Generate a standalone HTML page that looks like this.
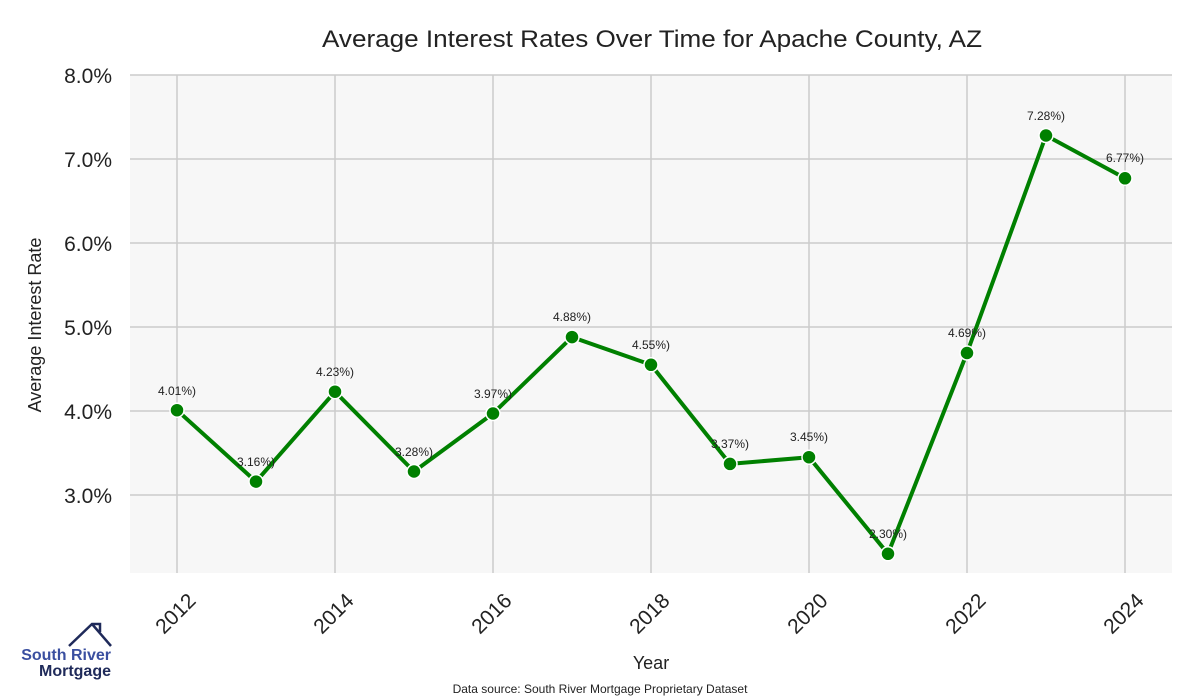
<!DOCTYPE html><html><head><style>body{margin:0;background:#fff}svg{display:block;font-family:"Liberation Sans",sans-serif}</style></head><body>
<svg width="1200" height="700" viewBox="0 0 1200 700" xmlns="http://www.w3.org/2000/svg">
<rect width="1200" height="700" fill="#fff"/>
<rect x="130" y="75" width="1042" height="498" fill="#f7f7f7"/>
<g stroke="#cccccc" stroke-width="1.5">
<line x1="130" x2="1172" y1="75" y2="75"/><line x1="130" x2="1172" y1="159" y2="159"/><line x1="130" x2="1172" y1="243" y2="243"/><line x1="130" x2="1172" y1="327" y2="327"/><line x1="130" x2="1172" y1="411" y2="411"/><line x1="130" x2="1172" y1="495" y2="495"/>
<line x1="177" x2="177" y1="75" y2="573"/><line x1="335" x2="335" y1="75" y2="573"/><line x1="493" x2="493" y1="75" y2="573"/><line x1="651" x2="651" y1="75" y2="573"/><line x1="809" x2="809" y1="75" y2="573"/><line x1="967" x2="967" y1="75" y2="573"/><line x1="1125" x2="1125" y1="75" y2="573"/>
</g>
<text x="322" y="47" font-size="24" textLength="660" lengthAdjust="spacingAndGlyphs" fill="#222">Average Interest Rates Over Time for Apache County, AZ</text>
<g font-size="21" fill="#222" text-anchor="end">
<text x="112" y="83">8.0%</text><text x="112" y="167">7.0%</text><text x="112" y="251">6.0%</text><text x="112" y="335">5.0%</text><text x="112" y="419">4.0%</text><text x="112" y="503">3.0%</text>
</g>
<text transform="translate(41,325) rotate(-90)" font-size="18" text-anchor="middle" fill="#222">Average Interest Rate</text>
<g font-size="21" fill="#222" text-anchor="end">
<text transform="translate(197,602) rotate(-45)">2012</text><text transform="translate(355,602) rotate(-45)">2014</text><text transform="translate(513,602) rotate(-45)">2016</text><text transform="translate(671,602) rotate(-45)">2018</text><text transform="translate(829,602) rotate(-45)">2020</text><text transform="translate(987,602) rotate(-45)">2022</text><text transform="translate(1145,602) rotate(-45)">2024</text>
</g>
<text x="651" y="669" font-size="18" text-anchor="middle" fill="#222">Year</text>
<text x="600" y="693" font-size="12" text-anchor="middle" fill="#222">Data source: South River Mortgage Proprietary Dataset</text>
<polyline fill="none" stroke="#008000" stroke-width="4" stroke-linejoin="round" points="177,410.2 256,481.6 335,391.7 414,471.5 493,413.5 572,337.1 651,364.8 730,463.9 809,457.2 888,553.8 967,353 1046,135.5 1125,178.3"/>
<g fill="#008000" stroke="#fff" stroke-width="1.5">
<circle cx="177" cy="410.2" r="7"/><circle cx="256" cy="481.6" r="7"/><circle cx="335" cy="391.7" r="7"/><circle cx="414" cy="471.5" r="7"/><circle cx="493" cy="413.5" r="7"/><circle cx="572" cy="337.1" r="7"/><circle cx="651" cy="364.8" r="7"/><circle cx="730" cy="463.9" r="7"/><circle cx="809" cy="457.2" r="7"/><circle cx="888" cy="553.8" r="7"/><circle cx="967" cy="353" r="7"/><circle cx="1046" cy="135.5" r="7"/><circle cx="1125" cy="178.3" r="7"/>
</g>
<g font-size="12" fill="#222" text-anchor="middle">
<text x="177" y="395">4.01%)</text><text x="256" y="466">3.16%)</text><text x="335" y="376">4.23%)</text><text x="414" y="456">3.28%)</text><text x="493" y="398">3.97%)</text><text x="572" y="321">4.88%)</text><text x="651" y="349">4.55%)</text><text x="730" y="448">3.37%)</text><text x="809" y="441">3.45%)</text><text x="888" y="538">2.30%)</text><text x="967" y="337">4.69%)</text><text x="1046" y="120">7.28%)</text><text x="1125" y="162">6.77%)</text>
</g>
<polyline points="69,646 92,624 100,624 100,632" fill="none" stroke="#1f2a5a" stroke-width="2.5"/>
<polyline points="92,624 111,646" fill="none" stroke="#1f2a5a" stroke-width="2.5"/>
<text x="111" y="660" font-size="16" font-weight="bold" fill="#3a4fa0" text-anchor="end">South River</text>
<text x="111" y="676" font-size="16" font-weight="bold" fill="#1f2a5a" text-anchor="end">Mortgage</text>
</svg>
</body></html>
